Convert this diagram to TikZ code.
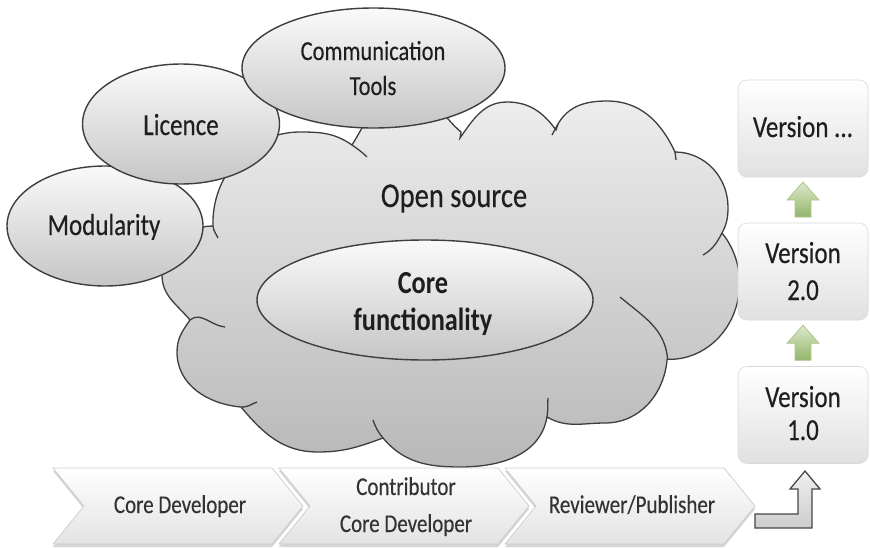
\documentclass[tikz,border=0pt]{standalone}
\usepackage{fontspec}
\setmainfont{Carlito}[UprightFeatures={FakeBold=0.35}]
\usetikzlibrary{shapes.geometric,calc}

% text is set slightly taller than wide throughout
\newcommand\tallbox[1]{\scalebox{1}[1.22]{#1}}

\definecolor{inkgray}{HTML}{3E3E3E}
\definecolor{txtdark}{HTML}{1E1E1E}
\definecolor{txtsoft}{HTML}{333333}
\definecolor{cloudtop}{HTML}{EEEEEE}
\definecolor{cloudbot}{HTML}{B8B8B8}
\definecolor{leaftop}{HTML}{DCEACB}
\definecolor{leafbot}{HTML}{93B469}
\definecolor{leafedge}{HTML}{AFC792}

\tikzset{
  bubble/.style={ellipse, draw=inkgray, line width=1.4pt,
    top color=gray!4, bottom color=gray!45, inner sep=0pt},
  lbl/.style={anchor=base, text=txtdark, inner sep=0pt},
  steplbl/.style={anchor=base, text=txtsoft, inner sep=0pt,
    font=\fontsize{21}{25}\selectfont},
  verlbl/.style={anchor=base, text=txtdark, inner sep=0pt,
    font=\fontsize{25}{30}\selectfont},
  cloudbody/.style={draw=inkgray, line width=1.3pt,
    top color=cloudtop, bottom color=cloudbot},
  cloudhook/.style={draw=inkgray, line width=1.3pt},
  verbox/.style={rectangle, rounded corners=9pt, minimum width=130pt,
    minimum height=97pt, inner sep=0pt, top color=white,
    bottom color=gray!24, draw=gray!30, line width=.6pt},
  vershadow/.style={rounded corners=9pt, fill=gray!60, opacity=.55},
  leafarrow/.style={top color=leaftop, bottom color=leafbot,
    draw=leafedge, line width=.8pt},
  greyarrow/.style={top color=gray!12, bottom color=gray!40,
    draw=gray!55!black, line width=1.3pt, line join=miter},
  chevbody/.style={top color=white, bottom color=gray!22,
    draw=gray!40, line width=.7pt},
  chevshadow/.style={fill=gray!55, opacity=.6},
  pics/uparrow/.style={code={
    \path[leafarrow] (0,18) -- (16,0) -- (8,0) -- (8,-17)
      -- (-8,-17) -- (-8,0) -- (-16,0) -- cycle;
  }},
  pics/chevron/.style={code={
    \path[chevshadow] (0,-3) -- (219,-3) -- (250,-41) -- (219,-79)
      -- (0,-79) -- (31,-41) -- cycle;
    \path[chevbody] (0,0) -- (219,0) -- (250,-38) -- (219,-76)
      -- (0,-76) -- (31,-38) -- cycle;
  }},
}

\begin{document}
\begin{tikzpicture}[x=1pt,y=1pt]
  \useasboundingbox (0,0) rectangle (870,-547);
  \fill[white] (0,0) rectangle (870,-547);

  % ---- the open-source cloud ----
  \path[cloudbody] (213,-226)
    to[out=92,in=180] (300,-132)
    to[out=0,in=145] (352,-145)
    to[out=58,in=180] (407,-92)
    to[out=0,in=140] (461,-132)
    -- (460,-138)
    to[out=55,in=180] (507,-102)
    to[out=0,in=126] (556,-130)
    -- (558,-124)
    to[out=60,in=180] (607,-101)
    to[out=0,in=115] (675,-152)
    to[out=0,in=90] (728,-207)
    to[out=-90,in=62] (722,-233)
    arc[start angle=41.5,end angle=-92,x radius=70,y radius=76]
    to[out=-95,in=0] (605,-423)
    to[out=180,in=-30] (547,-417)
    to[out=-100,in=0] (460,-467)
    to[out=180,in=-50] (383,-438)
    to[out=200,in=0] (318,-452)
    to[out=180,in=-50] (241,-407)
    to[out=175,in=-90] (177,-352)
    to[out=90,in=-125] (190,-320)
    to[out=130,in=-90] (162,-275)
    to[out=90,in=180] (213,-226)
    -- cycle;
  % inner strokes where the bumps overlap
  \draw[cloudhook] (213,-226) to[out=-85,in=115] (218,-238);
  \draw[cloudhook] (352,-145) to[out=-35,in=135] (367,-157);
  \draw[cloudhook] (552,-135) -- (558,-124);
  \draw[cloudhook] (675,-152) -- (676,-160);
  \draw[cloudhook] (722,-233) to[out=-118,in=30] (703,-255);
  \draw[cloudhook] (620,-297) to[out=-40,in=95] (667.6,-359);
  \draw[cloudhook] (548,-398) to[out=-95,in=80] (547,-417);
  \draw[cloudhook] (383,-438) to[out=130,in=-70] (373,-420);
  \draw[cloudhook] (241,-407) to[out=-5,in=200] (257,-402);
  \draw[cloudhook] (190,-320) to[out=40,in=175] (225,-327);

  \node[lbl, font=\fontsize{28.5}{34}\selectfont] (opensrc) at (454,-207)
    {\tallbox{Open source}};

  % ---- the bubbles ----
  \node[bubble, minimum width=196pt, minimum height=120pt] (modul) at (105,-226) {};
  \node[bubble, minimum width=197pt, minimum height=120pt] (licen) at (181,-124) {};
  \node[bubble, minimum width=263pt, minimum height=120pt] (commu) at (373.5,-68) {};
  \node[bubble, minimum width=336pt, minimum height=120pt] (corefn) at (425,-300) {};

  \node[lbl, font=\fontsize{25}{30}\selectfont] (modultxt) at (104,-235) {\tallbox{Modularity}};
  \node[lbl, font=\fontsize{25}{30}\selectfont] (licentxt) at (181,-135) {\tallbox{Licence}};
  \node[lbl, font=\fontsize{22.5}{28}\selectfont] (commutxta) at (373,-60) {\tallbox{Communication}};
  \node[lbl, font=\fontsize{22.5}{28}\selectfont] (commutxtb) at (373,-95) {\tallbox{Tools}};
  \node[lbl, font=\fontsize{26.3}{32}\bfseries\selectfont] (coretxta) at (423,-293) {\tallbox{Core}};
  \node[lbl, font=\fontsize{26.3}{32}\bfseries\selectfont] (coretxtb) at (423,-330) {\tallbox{functionality}};

  % ---- release boxes ----
  \foreach \cy in {-128.5,-271.5,-415}
    \path[vershadow] (738,\cy-45.5) rectangle (868,\cy+47.5);
  \node[verbox] (vdots) at (803,-128.5) {};
  \node[verbox] (vtwo)  at (803,-271.5) {};
  \node[verbox] (vone)  at (803,-415) {};

  \node[verlbl] (vdotstxt) at (803,-137) {\tallbox{Version ...}};
  \node[verlbl] (vtwotxta) at (803,-263) {\tallbox{Version}};
  \node[verlbl] (vtwotxtb) at (803,-300) {\tallbox{2.0}};
  \node[verlbl] (vonetxta) at (803,-407) {\tallbox{Version}};
  \node[verlbl] (vonetxtb) at (803,-440) {\tallbox{1.0}};

  \pic at ($(vone.north)!0.5!(vtwo.south)$) {uparrow};
  \pic at ($(vtwo.north)!0.5!(vdots.south)$) {uparrow};

  % ---- contributor chain ----
  \pic at (53,-468) {chevron};
  \pic at (279,-468) {chevron};
  \pic at (505,-468) {chevron};

  \node[steplbl] (stepone) at (180,-513) {\tallbox{Core Developer}};
  \node[steplbl] (steptwoa) at (406,-495) {\tallbox{Contributor}};
  \node[steplbl] (steptwob) at (406,-532) {\tallbox{Core Developer}};
  \node[steplbl] (stepthree) at (632,-513) {\tallbox{Reviewer/Publisher}};

  % bent arrow handing the release up to version 1.0
  \path[greyarrow] (805,-471) -- (820,-489) -- (812,-489) -- (812,-528)
    -- (755,-528) -- (755,-514) -- (798,-514) -- (798,-489)
    -- (790,-489) -- cycle;
\end{tikzpicture}
\end{document}
